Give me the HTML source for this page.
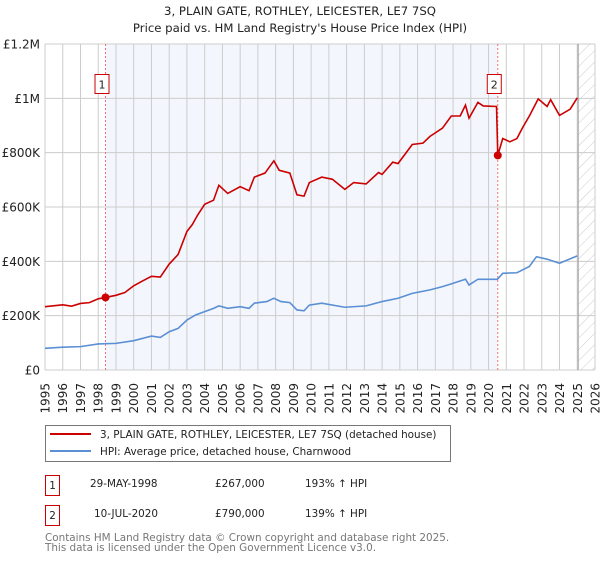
<!DOCTYPE html>
<html><head><meta charset="utf-8"><style>
html,body{margin:0;padding:0;background:#fff;}
svg text{font-family:"DejaVu Sans","Liberation Sans",sans-serif;}
</style></head><body>
<svg id="chart" width="600" height="560" xmlns="http://www.w3.org/2000/svg">
<text x="300" y="15" text-anchor="middle" font-size="11.7" fill="#222">3, PLAIN GATE, ROTHLEY, LEICESTER, LE7 7SQ</text>
<text x="300" y="32" text-anchor="middle" font-size="11.7" fill="#222">Price paid vs. HM Land Registry's House Price Index (HPI)</text>
<defs><pattern id="hatch" patternUnits="userSpaceOnUse" width="8" height="8" patternTransform="rotate(45)"><line x1="0" y1="0" x2="0" y2="8" stroke="#ccc" stroke-width="1"/></pattern></defs>
<g id="plot"></g>
<rect x="45.5" y="425.5" width="405" height="36" fill="#fff" stroke="#777"/>
<line x1="50" y1="434" x2="91" y2="434" stroke="#cc0000" stroke-width="2"/>
<text x="100" y="438" font-size="10.4" fill="#222">3, PLAIN GATE, ROTHLEY, LEICESTER, LE7 7SQ (detached house)</text>
<line x1="50" y1="451" x2="91" y2="451" stroke="#5b8fd4" stroke-width="2"/>
<text x="100" y="455" font-size="10.4" fill="#222">HPI: Average price, detached house, Charnwood</text>
<g font-size="10.4" fill="#222">
<rect x="45.5" y="475.5" width="14" height="20" fill="#fff" stroke="#cc0000"/>
<text x="52.5" y="489" text-anchor="middle">1</text>
<text x="90" y="487">29-MAY-1998</text><text x="215" y="487">£267,000</text><text x="305" y="487">193% ↑ HPI</text>
</g>
<g font-size="10.4" fill="#222">
<rect x="45.5" y="505.5" width="14" height="20" fill="#fff" stroke="#cc0000"/>
<text x="52.5" y="519" text-anchor="middle">2</text>
<text x="94" y="517">10-JUL-2020</text><text x="215" y="517">£790,000</text><text x="305" y="517">139% ↑ HPI</text>
</g>
<text x="45" y="541" font-size="10.4" fill="#777">Contains HM Land Registry data © Crown copyright and database right 2025.</text>
<text x="45" y="551" font-size="10.4" fill="#777">This data is licensed under the Open Government Licence v3.0.</text>
</svg>
<script>
const yTicks=[0,200000,400000,600000,800000,1000000,1200000];
const yTickLabels=["£0","£200K","£400K","£600K","£800K","£1M","£1.2M"];
const xYears=[1995,1996,1997,1998,1999,2000,2001,2002,2003,2004,2005,2006,2007,2008,2009,2010,2011,2012,2013,2014,2015,2016,2017,2018,2019,2020,2021,2022,2023,2024,2025,2026];
const saleDates=[1998.41,2020.52];
const salePrices=[267000,790000];
const saleLabels=["1","2"];
const propT=[1995,1996,1996.5,1997,1997.5,1998,1998.41,1999,1999.5,2000,2000.5,2001,2001.5,2002,2002.5,2003,2003.3,2003.6,2004,2004.5,2004.8,2005.3,2006,2006.5,2006.8,2007.4,2007.9,2008.2,2008.8,2009.2,2009.6,2009.9,2010.6,2011.2,2011.9,2012.4,2013.1,2013.8,2014.0,2014.6,2014.9,2015.7,2016.3,2016.7,2017.4,2017.9,2018.4,2018.7,2018.9,2019.4,2019.7,2020.45,2020.52,2020.8,2021.2,2021.6,2021.9,2022.3,2022.8,2023.3,2023.5,2024.0,2024.6,2025.0];
const propV=[233,240,235,245,248,262,267,275,285,310,328,345,342,390,425,510,535,570,610,625,680,650,675,660,710,725,770,735,725,645,640,690,710,702,665,690,685,727,720,765,760,830,835,860,890,935,935,975,927,985,972,970,790,852,840,852,890,935,998,970,995,937,960,1002];
const hpiT=[1995,1996,1997,1998,1999,2000,2001,2001.5,2002,2002.5,2003,2003.5,2004,2004.5,2004.8,2005.3,2006,2006.5,2006.8,2007.5,2007.9,2008.3,2008.8,2009.2,2009.6,2009.9,2010.6,2011.9,2013.1,2014.0,2014.9,2015.7,2016.7,2017.4,2017.9,2018.7,2018.9,2019.4,2020.5,2020.8,2021.6,2022.3,2022.7,2023.3,2024.0,2025.0];
const hpiV=[80,84,86,96,98,108,125,120,141,153,184,203,215,227,236,227,233,227,246,252,264,252,248,221,218,239,246,231,236,252,264,282,295,307,317,334,313,334,334,356,358,381,417,408,393,420];

const L=45,R=595,T=44,B=370;
const x=t=>L+(t-1995)*(R-L)/31;
const y=v=>B-v*(B-T)/1200000;
const NS="http://www.w3.org/2000/svg";
const g=document.getElementById('plot');
function mk(tag,a,parent){const e=document.createElementNS(NS,tag);for(const k in a)e.setAttribute(k,a[k]);(parent||g).appendChild(e);return e;}
const shade=mk('rect',{x:x(saleDates[0]),y:T,width:x(saleDates[1])-x(saleDates[0]),height:B-T,fill:'#eef3fc',opacity:0.7});


const hatch=mk('rect',{x:x(2025.05),y:T,width:R-x(2025.05),height:B-T,fill:'url(#hatch)'});


xYears.forEach(yr=>{
 const l=mk('line',{x1:x(yr),x2:x(yr),y1:T,y2:B,stroke:'#ccc','stroke-width':1});
 
 
 const tx=mk('text',{x:0,y:0,'font-size':12,fill:'#222','text-anchor':'end',transform:`translate(${x(yr)+4.5},383) rotate(-90)`});
 tx.textContent=yr;
 
 
});
yTicks.forEach((v,i)=>{
 const l=mk('line',{x1:L,x2:R,y1:y(v),y2:y(v),stroke:'#ccc','stroke-width':1});
 
 
 const tx=mk('text',{x:40,y:y(v)+4.5,'font-size':12,fill:'#222','text-anchor':'end'});
 tx.textContent=yTickLabels[i];
 
 
});
const vl=mk('line',{x1:x(2025.05),x2:x(2025.05),y1:T,y2:B,stroke:'#999','stroke-width':1});


saleDates.forEach((d,i)=>{
 const l=mk('line',{x1:x(d),x2:x(d),y1:T,y2:B,stroke:'#f07070','stroke-width':1,'stroke-dasharray':'2,2'});
 
 
});
const hp=mk('polyline',{points:hpiT.map((t,i)=>x(t)+','+y(hpiV[i]*1000)).join(' '),fill:'none',stroke:'#5b8fd4','stroke-width':1.6});


const pp=mk('polyline',{points:propT.map((t,i)=>x(t)+','+y(propV[i]*1000)).join(' '),fill:'none',stroke:'#cc0000','stroke-width':1.6});


saleDates.forEach((d,i)=>{
 const c=mk('circle',{cx:x(d),cy:y(salePrices[i]),r:4,fill:'#cc0000'});
 
 
 const r=mk('rect',{x:x(d)-10.5,y:74.5,width:14,height:19,fill:'#fff',stroke:'#cc0000'});
 
 
 const t=mk('text',{x:x(d)-3.5,y:88.5,'font-size':11,'text-anchor':'middle',fill:'#222'});
 t.textContent=saleLabels[i];
 
 
});
</script>
</body></html>
